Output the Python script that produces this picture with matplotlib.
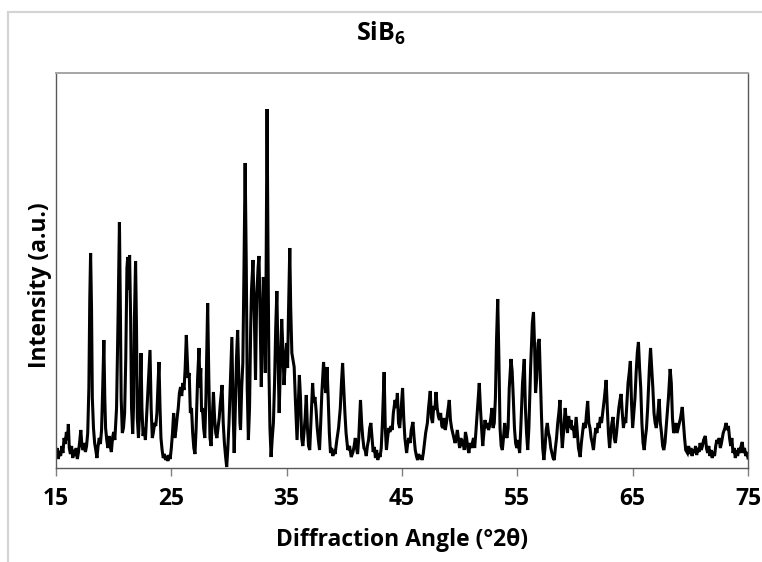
import matplotlib
matplotlib.use("Agg")
import matplotlib.pyplot as plt
from matplotlib.patches import Rectangle

plt.rcParams['font.family'] = ['Open Sans', 'DejaVu Sans']
plt.rcParams['mathtext.fontset'] = 'custom'
plt.rcParams['mathtext.rm'] = 'Open Sans'
plt.rcParams['mathtext.bf'] = 'Open Sans:bold'

# diffraction angle (deg 2theta) and intensity (a.u.)
two_theta = [
    15.00, 15.10, 15.20, 15.30, 15.40, 15.50, 15.60, 15.70, 15.80, 15.90,
    16.00, 16.07, 16.15, 16.25, 16.35, 16.45, 16.55, 16.65, 16.75, 16.85,
    16.95, 17.05, 17.15, 17.25, 17.35, 17.45, 17.55, 17.65, 17.75, 17.85,
    17.93, 18.00, 18.08, 18.15, 18.25, 18.35, 18.45, 18.55, 18.65, 18.75,
    18.85, 18.95, 19.05, 19.15, 19.23, 19.30, 19.40, 19.50, 19.60, 19.70,
    19.80, 19.90, 20.00, 20.10, 20.25, 20.38, 20.50, 20.58, 20.65, 20.75,
    20.85, 20.95, 21.05, 21.15, 21.22, 21.30, 21.38, 21.47, 21.55, 21.65,
    21.72, 21.80, 21.90, 21.98, 22.05, 22.15, 22.25, 22.37, 22.45, 22.55,
    22.65, 22.75, 22.85, 22.95, 23.05, 23.15, 23.25, 23.35, 23.45, 23.55,
    23.65, 23.75, 23.85, 23.93, 24.02, 24.10, 24.20, 24.30, 24.40, 24.50,
    24.60, 24.70, 24.80, 24.90, 25.00, 25.10, 25.20, 25.30, 25.40, 25.50,
    25.60, 25.70, 25.80, 25.90, 26.00, 26.10, 26.20, 26.30, 26.38, 26.45,
    26.55, 26.65, 26.75, 26.85, 26.95, 27.05, 27.15, 27.28, 27.40, 27.48,
    27.55, 27.62, 27.70, 27.80, 27.90, 28.00, 28.15, 28.25, 28.35, 28.45,
    28.55, 28.65, 28.75, 28.85, 28.95, 29.05, 29.15, 29.25, 29.40, 29.50,
    29.60, 29.70, 29.80, 29.90, 30.00, 30.10, 30.25, 30.35, 30.45, 30.55,
    30.65, 30.75, 30.85, 30.95, 31.00, 31.10, 31.20, 31.30, 31.40, 31.50,
    31.58, 31.68, 31.78, 31.88, 31.95, 32.08, 32.20, 32.30, 32.40, 32.52,
    32.60, 32.70, 32.80, 32.90, 32.98, 33.08, 33.15, 33.22, 33.30, 33.38,
    33.46, 33.55, 33.65, 33.75, 33.85, 33.95, 34.05, 34.15, 34.25, 34.35,
    34.45, 34.57, 34.67, 34.77, 34.90, 35.00, 35.08, 35.15, 35.27, 35.35,
    35.45, 35.55, 35.65, 35.75, 35.90, 36.00, 36.10, 36.20, 36.30, 36.40,
    36.50, 36.60, 36.70, 36.80, 36.90, 37.00, 37.10, 37.25, 37.35, 37.45,
    37.55, 37.65, 37.75, 37.85, 37.95, 38.05, 38.20, 38.30, 38.40, 38.50,
    38.60, 38.70, 38.80, 38.90, 39.00, 39.10, 39.20, 39.35, 39.50, 39.65,
    39.75, 39.85, 39.95, 40.05, 40.15, 40.30, 40.45, 40.60, 40.75, 40.85,
    40.95, 41.05, 41.15, 41.25, 41.40, 41.50, 41.60, 41.70, 41.80, 41.90,
    42.00, 42.10, 42.20, 42.30, 42.40, 42.50, 42.60, 42.70, 42.80, 42.90,
    43.00, 43.10, 43.20, 43.30, 43.45, 43.55, 43.65, 43.75, 43.85, 43.95,
    44.05, 44.15, 44.25, 44.40, 44.50, 44.60, 44.70, 44.80, 44.90, 45.05,
    45.15, 45.25, 45.40, 45.50, 45.60, 45.70, 45.80, 45.95, 46.05, 46.15,
    46.25, 46.35, 46.45, 46.55, 46.65, 46.75, 46.85, 46.95, 47.05, 47.20,
    47.30, 47.45, 47.55, 47.65, 47.75, 47.85, 47.95, 48.05, 48.15, 48.25,
    48.35, 48.45, 48.55, 48.65, 48.75, 48.85, 48.95, 49.10, 49.20, 49.30,
    49.40, 49.50, 49.60, 49.70, 49.80, 49.90, 50.00, 50.10, 50.20, 50.30,
    50.40, 50.50, 50.60, 50.70, 50.80, 50.90, 51.00, 51.10, 51.20, 51.30,
    51.40, 51.55, 51.70, 51.80, 51.90, 52.00, 52.10, 52.20, 52.30, 52.40,
    52.50, 52.60, 52.70, 52.80, 52.90, 53.00, 53.10, 53.20, 53.30, 53.40,
    53.50, 53.60, 53.70, 53.80, 53.90, 54.00, 54.10, 54.20, 54.30, 54.45,
    54.55, 54.65, 54.75, 54.85, 54.95, 55.05, 55.20, 55.30, 55.45, 55.60,
    55.70, 55.80, 55.90, 56.00, 56.15, 56.30, 56.40, 56.50, 56.58, 56.68,
    56.80, 56.90, 57.00, 57.10, 57.20, 57.30, 57.40, 57.50, 57.60, 57.70,
    57.80, 57.90, 58.00, 58.10, 58.20, 58.30, 58.40, 58.50, 58.60, 58.70,
    58.80, 58.90, 59.00, 59.15, 59.25, 59.35, 59.45, 59.55, 59.65, 59.75,
    59.85, 59.95, 60.10, 60.20, 60.30, 60.45, 60.55, 60.65, 60.75, 60.90,
    61.00, 61.10, 61.20, 61.30, 61.40, 61.50, 61.60, 61.70, 61.80, 61.90,
    62.00, 62.10, 62.20, 62.30, 62.40, 62.55, 62.70, 62.80, 62.90, 63.00,
    63.10, 63.20, 63.30, 63.40, 63.50, 63.60, 63.70, 63.80, 63.90, 64.00,
    64.10, 64.20, 64.30, 64.40, 64.50, 64.60, 64.70, 64.80, 64.90, 65.00,
    65.10, 65.20, 65.30, 65.40, 65.50, 65.60, 65.70, 65.80, 65.90, 66.00,
    66.10, 66.20, 66.30, 66.45, 66.55, 66.65, 66.75, 66.85, 66.95, 67.05,
    67.15, 67.30, 67.40, 67.50, 67.60, 67.70, 67.80, 67.90, 68.00, 68.10,
    68.25, 68.35, 68.45, 68.55, 68.65, 68.75, 68.85, 68.95, 69.05, 69.15,
    69.30, 69.40, 69.50, 69.60, 69.75, 69.85, 69.95, 70.05, 70.15, 70.25,
    70.35, 70.45, 70.55, 70.65, 70.75, 70.85, 70.95, 71.05, 71.15, 71.30,
    71.40, 71.50, 71.60, 71.70, 71.80, 71.90, 72.00, 72.10, 72.20, 72.30,
    72.40, 72.50, 72.60, 72.70, 72.85, 73.00, 73.10, 73.20, 73.30, 73.40,
    73.50, 73.60, 73.70, 73.80, 73.90, 74.00, 74.10, 74.20, 74.30, 74.40,
    74.50, 74.60, 74.70, 74.80, 74.90, 75.00,
]
intensity = [
    14, 20, 9, 17, 12, 22, 15, 30, 24, 36,
    28, 44, 20, 14, 22, 10, 18, 12, 20, 9,
    16, 26, 38, 22, 18, 25, 16, 22, 35, 80,
    170, 215, 160, 70, 40, 25, 18, 10, 22, 30,
    24, 38, 80, 128, 70, 40, 28, 20, 32, 22,
    16, 30, 36, 28, 60, 150, 246, 160, 70, 35,
    40, 55, 110, 200, 211, 178, 213, 150, 60, 34,
    60, 150, 207, 140, 50, 30, 55, 115, 60, 32,
    40, 28, 50, 70, 95, 118, 60, 30, 36, 45,
    42, 55, 85, 106, 60, 30, 18, 10, 14, 8,
    12, 7, 13, 9, 20, 35, 55, 30, 38, 50,
    60, 75, 81, 72, 85, 78, 100, 133, 110, 90,
    95, 55, 60, 35, 20, 14, 40, 90, 120, 80,
    100, 56, 60, 40, 30, 70, 165, 90, 30, 22,
    50, 76, 50, 35, 30, 40, 50, 65, 83, 45,
    25, 12, 1, 20, 45, 80, 131, 60, 15, 60,
    110, 138, 90, 45, 38, 80, 105, 200, 305, 200,
    80, 28, 60, 140, 178, 208, 150, 88, 171, 200,
    212, 150, 81, 150, 191, 140, 95, 200, 359, 220,
    100, 40, 11, 30, 45, 85, 140, 177, 110, 55,
    100, 149, 120, 83, 110, 125, 100, 150, 220, 160,
    115, 108, 101, 70, 28, 60, 93, 70, 30, 22,
    35, 50, 73, 40, 22, 18, 45, 85, 65, 71,
    58, 40, 28, 18, 45, 75, 106, 85, 75, 101,
    70, 35, 15, 20, 12, 18, 14, 28, 40, 60,
    85, 105, 80, 55, 35, 18, 22, 11, 16, 22,
    30, 20, 14, 30, 68, 45, 30, 20, 18, 12,
    22, 28, 40, 45, 30, 16, 21, 10, 18, 8,
    14, 11, 20, 45, 96, 40, 18, 30, 40, 36,
    42, 38, 55, 68, 60, 75, 45, 40, 55, 80,
    50, 30, 15, 25, 30, 25, 38, 46, 30, 18,
    12, 8, 14, 9, 12, 8, 15, 25, 35, 45,
    60, 77, 50, 45, 62, 58, 76, 60, 52, 48,
    55, 42, 40, 50, 38, 45, 55, 68, 48, 40,
    35, 30, 25, 30, 38, 28, 20, 30, 22, 28,
    18, 36, 30, 20, 15, 25, 20, 25, 30, 20,
    35, 60, 85, 60, 40, 22, 35, 48, 40, 45,
    38, 42, 50, 60, 40, 45, 70, 130, 169, 110,
    40, 22, 18, 30, 45, 35, 30, 40, 80, 109,
    97, 70, 40, 25, 20, 28, 15, 40, 85, 109,
    60, 35, 18, 40, 100, 145, 156, 120, 75, 90,
    125, 129, 90, 50, 20, 8, 20, 38, 45, 35,
    30, 20, 15, 10, 8, 20, 30, 45, 55, 68,
    40, 20, 35, 60, 45, 35, 52, 40, 48, 38,
    42, 30, 51, 35, 20, 11, 25, 35, 45, 40,
    55, 67, 45, 40, 30, 25, 18, 30, 40, 35,
    45, 40, 51, 45, 55, 70, 88, 60, 35, 20,
    35, 45, 51, 30, 25, 35, 48, 60, 68, 74,
    55, 40, 50, 45, 65, 85, 95, 107, 65, 40,
    55, 70, 95, 115, 126, 100, 80, 45, 25, 18,
    30, 40, 60, 100, 120, 100, 80, 55, 45, 40,
    50, 69, 45, 35, 22, 18, 25, 40, 55, 70,
    99, 85, 50, 35, 38, 45, 35, 40, 45, 50,
    61, 45, 30, 18, 15, 22, 14, 20, 12, 18,
    15, 22, 13, 20, 16, 25, 18, 22, 28, 32,
    20, 15, 22, 12, 18, 10, 16, 12, 22, 28,
    25, 30, 20, 25, 35, 40, 45, 38, 42, 30,
    22, 30, 15, 20, 10, 18, 12, 20, 15, 22,
    26, 15, 20, 12, 16, 10,
]
xticks = [15, 25, 35, 45, 55, 65, 75]

W, H = 762, 562
fig = plt.figure(figsize=(W / 100, H / 100), dpi=100)

# light grey chart-area border, cut off at right and bottom
fig.add_artist(Rectangle((8 / W, -0.1), 1.2, 1.1 - 12 / H, transform=fig.transFigure,
                         fill=False, ec='#d4d4d4', lw=1.6))

ax = fig.add_axes([56 / W, (H - 468) / H, 692 / W, 395 / H])
ax.plot(two_theta, intensity, color='black', lw=2.2, solid_joinstyle='miter')
ax.set_xlim(15, 75)
ax.set_ylim(0, 395)
ax.set_xticks(xticks)
ax.set_yticks([])
ax.tick_params(axis='x', direction='out', length=6, width=1, color='#808080',
               pad=8, labelsize=16.5)
for lab in ax.get_xticklabels():
    lab.set_fontweight('bold')
for side in ['left', 'bottom', 'right']:
    ax.spines[side].set_color('#595959')
    ax.spines[side].set_linewidth(1.0)
ax.spines['top'].set_color('#a6a6a6')
ax.spines['top'].set_linewidth(1.4)

fig.text(381 / W, 1 - 33 / H, r'SiB$_\mathbf{6}$', ha='center', va='center',
         fontsize=18, fontweight='bold')
fig.text(402 / W, 1 - 540 / H, 'Diffraction Angle (°2θ)', ha='center', va='center',
         fontsize=16.5, fontweight='bold')
fig.text(40 / W, 1 - 285 / H, 'Intensity (a.u.)', ha='center', va='center',
         rotation=90, fontsize=16.5, fontweight='bold')

fig.savefig('out.png', dpi=100)
